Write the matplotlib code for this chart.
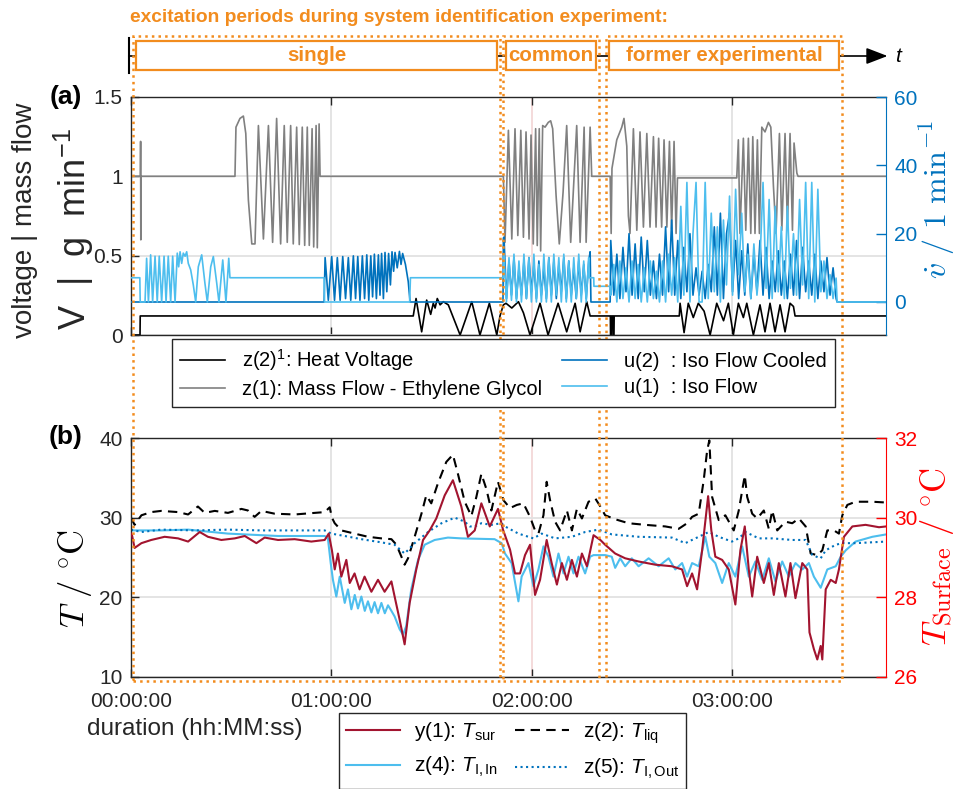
import numpy as np
import matplotlib.pyplot as plt
from matplotlib.patches import Rectangle
from matplotlib.transforms import blended_transform_factory

plt.rcParams['font.family'] = ['Liberation Sans', 'DejaVu Sans']
plt.rcParams['mathtext.fontset'] = 'custom'
plt.rcParams['mathtext.rm'] = 'Liberation Sans'
plt.rcParams['mathtext.it'] = 'Liberation Sans:italic'
plt.rcParams['mathtext.bf'] = 'Liberation Sans:bold'

# ---- data (time in hours) ----
hour_ticks = [0, 1, 2, 3]
hour_labels = ['00:00:00', '01:00:00', '02:00:00', '03:00:00']
period_names = ['single', 'common', 'former experimental']
period_start = [0.01, 1.857, 2.371]
period_end = [1.842, 2.336, 3.55]

# z(2) heat voltage [V]
heat = [(0, 0), (0.045, 0), (0.046, 0.12), (1.409, 0.12), (1.423, 0.23), (1.451, 0.02),
        (1.476, 0.22), (1.496, 0.13), (1.509, 0.20), (1.518, 0.17), (1.529, 0.23),
        (1.543, 0.19), (1.559, 0.21), (1.584, 0.19), (1.643, 0.0), (1.701, 0.21),
        (1.742, 0.0), (1.789, 0.20), (1.826, 0.0), (1.842, 0.12), (1.859, 0.19),
        (1.872, 0.20), (1.901, 0.17), (1.934, 0.21), (1.959, 0.14), (1.992, 0.0),
        (2.042, 0.20), (2.082, 0.0), (2.132, 0.20), (2.175, 0.02), (2.217, 0.20),
        (2.242, 0.02), (2.275, 0.21), (2.292, 0.12), (2.393, 0.12), (2.394, 0.0),
        (2.398, 0.0), (2.399, 0.12), (2.406, 0.12), (2.407, 0.0), (2.411, 0.0),
        (2.412, 0.12), (2.737, 0.12), (2.741, 0.20), (2.761, 0.015), (2.782, 0.20),
        (2.807, 0.11), (2.832, 0.20), (2.861, 0.15), (2.891, 0.0), (2.924, 0.20),
        (2.958, 0.09), (2.982, 0.20), (3.007, 0.0), (3.032, 0.20), (3.057, 0.11),
        (3.074, 0.20), (3.107, 0.0), (3.140, 0.19), (3.165, 0.02), (3.190, 0.20),
        (3.215, 0.02), (3.240, 0.19), (3.265, 0.02), (3.290, 0.20), (3.307, 0.18),
        (3.315, 0.12), (3.77, 0.12)]

# z(1) mass flow ethylene glycol [g/min]
mass = [(0, 1.0), (0.047, 1.0), (0.048, 1.22), (0.049, 0.6), (0.05, 1.0), (0.519, 1.0),
        (0.524, 1.31), (0.544, 1.365), (0.561, 1.38), (0.573, 1.27), (0.586, 0.85),
        (0.603, 0.574), (0.619, 0.574), (0.636, 1.32), (0.661, 0.605), (0.686, 1.32),
        (0.707, 0.584), (0.727, 1.365), (0.747, 0.574), (0.765, 1.32), (0.78, 0.584),
        (0.797, 1.32), (0.81, 0.574), (0.827, 1.31), (0.84, 0.57), (0.855, 1.31),
        (0.867, 0.565), (0.88, 1.31), (0.89, 0.565), (0.904, 1.30), (0.912, 0.555),
        (0.924, 1.32), (0.93, 0.55), (0.939, 1.33), (0.944, 1.0), (1.859, 1.0),
        (1.867, 0.584), (1.884, 1.29), (1.901, 0.605), (1.917, 1.30), (1.931, 0.627),
        (1.946, 1.29), (1.959, 0.616), (1.972, 1.28), (1.987, 0.605), (1.997, 1.26),
        (2.008, 0.574), (2.020, 1.30), (2.028, 0.564), (2.038, 1.30), (2.045, 0.53),
        (2.055, 1.32), (2.067, 1.31), (2.083, 1.34), (2.095, 1.35), (2.105, 1.30),
        (2.122, 0.88), (2.138, 0.574), (2.157, 0.90), (2.175, 1.32), (2.195, 0.584),
        (2.225, 1.32), (2.242, 0.584), (2.262, 1.31), (2.272, 0.584), (2.292, 1.31),
        (2.30, 1.0), (2.392, 1.0), (2.397, 0.64), (2.401, 1.05), (2.425, 1.23),
        (2.45, 1.31), (2.461, 1.365), (2.475, 1.19), (2.483, 0.75), (2.491, 0.64),
        (2.508, 1.30), (2.525, 0.66), (2.541, 1.28), (2.558, 0.68), (2.575, 1.27),
        (2.591, 0.68), (2.608, 1.25), (2.621, 0.68), (2.634, 1.24), (2.649, 0.68),
        (2.661, 1.23), (2.675, 0.68), (2.688, 1.22), (2.699, 0.67), (2.711, 1.22),
        (2.721, 0.64), (2.728, 0.99), (3.024, 0.99), (3.032, 1.23), (3.04, 0.64),
        (3.057, 1.24), (3.069, 0.66), (3.082, 1.24), (3.094, 0.64), (3.104, 1.25),
        (3.115, 0.64), (3.127, 1.23), (3.137, 0.64), (3.149, 1.31), (3.165, 1.28),
        (3.182, 1.34), (3.194, 1.31), (3.207, 0.94), (3.22, 0.64), (3.237, 1.27),
        (3.249, 0.66), (3.265, 1.27), (3.277, 0.68), (3.29, 1.27), (3.302, 0.66),
        (3.31, 1.21), (3.324, 1.02), (3.33, 1.0), (3.77, 1.0)]

# u(1) iso flow [l/min]
u1_start = [(0, 7.1), (0.044, 7.1), (0.046, 0), (0.07, 0), (0.078, 12.8), (0.087, 0),
            (0.098, 13.8), (0.108, 0), (0.12, 13.4), (0.131, 0), (0.141, 13.4),
            (0.153, 0), (0.165, 13.4), (0.175, 0), (0.186, 13.4), (0.198, 0),
            (0.208, 13.4), (0.22, 0), (0.231, 14.3), (0.238, 10.3), (0.245, 14.7),
            (0.253, 11.3), (0.261, 14.3), (0.27, 13.4), (0.278, 14.7), (0.286, 11.3),
            (0.298, 9.4), (0.311, 5.0), (0.323, 0), (0.336, 10.3), (0.353, 13.8),
            (0.369, 5.5), (0.381, 0), (0.398, 10.3), (0.411, 13.3), (0.428, 5.5),
            (0.439, 0), (0.458, 12.3), (0.474, 0), (0.488, 12.8), (0.494, 7.1),
            (0.964, 7.1), (0.966, 0), (1.391, 0), (1.395, 7.1), (1.859, 7.1)]
u1_common = [14, 0, 13, 0.5, 14, 0, 12, 0, 14, 1, 13, 0, 14, 0, 11, 0, 14, 0, 13, 0,
             14, 2, 13, 0, 14, 0, 12, 0, 13, 1, 14, 0, 12, 0, 13]
u1_mid = [(2.287, 7.1), (2.31, 7.1), (2.311, 4.6), (2.392, 4.6)]
u1_former = [2, 11, 0, 12, 1, 10, 0, 12, 1, 11, 0, 10, 0, 12, 1, 9, 0, 12, 0, 14, 2, 13,
             0, 28, 2, 35, 0, 20, 35, 0, 0, 35, 1, 26, 3, 22, 0, 24, 5, 31, 2, 33, 8, 26,
             3, 14, 1, 17, 2, 12, 35, 4, 30, 1, 28, 3, 22, 1, 28, 4, 20, 2, 30, 5, 35, 1,
             35, 0, 33, 3, 12, 1, 8, 1, 7]
u1_end = [(3.525, 0), (3.77, 0)]

# u(2) iso flow cooled [l/min]
u2_start = [(0, 0), (0.964, 0), (0.969, 13), (0.985, 0.5), (1.002, 13.3), (1.016, 0.5),
            (1.030, 13), (1.044, 0.5), (1.057, 13.3), (1.071, 1), (1.085, 13),
            (1.097, 0.5), (1.110, 13.5), (1.121, 1), (1.132, 13.3), (1.143, 0.5),
            (1.155, 13.5), (1.166, 1), (1.177, 13.8), (1.187, 0.5), (1.197, 13.5),
            (1.206, 1.5), (1.215, 14), (1.225, 1), (1.235, 13.8), (1.243, 2),
            (1.251, 14.2), (1.260, 1), (1.268, 14.5), (1.277, 3), (1.286, 14.2),
            (1.295, 5), (1.303, 14.7), (1.311, 9), (1.318, 14.5), (1.329, 10),
            (1.340, 14.8), (1.348, 11), (1.356, 14.2), (1.370, 11), (1.384, 6),
            (1.393, 0), (1.857, 0), (1.859, 18.7)]
u2_common = [19, 1, 12, 2, 13, 1, 10, 2, 12, 1, 13, 3, 11, 1, 12, 2, 10, 1, 13, 2, 12,
             1, 11, 3, 13, 1, 12, 2, 10, 1, 12, 2, 11, 1, 12]
u2_mid = [(2.292, 14.7), (2.296, 0), (2.392, 0)]
u2_former = [18, 2, 14, 1, 16, 3, 20, 2, 17, 1, 19, 3, 18, 2, 12, 1, 14, 2, 22, 3, 24, 2,
             18, 1, 16, 3, 20, 2, 10, 2, 9, 1, 11, 3, 22, 2, 26, 1, 20, 26, 3, 18, 1, 15,
             2, 17, 1, 14, 3, 18, 2, 16, 1, 12, 3, 15, 2, 12, 1, 14, 2, 18, 1, 16, 3, 12,
             2, 14, 1, 12, 3, 13, 2, 10, 1]
u2_end = [(3.525, 0), (3.77, 0)]

# z(2) T_liq [degC]
t_liq = [(0, 30.0), (0.018, 29.1), (0.052, 30.3), (0.101, 30.7), (0.151, 30.85),
         (0.235, 30.7), (0.285, 30.4), (0.334, 31.4), (0.368, 30.6), (0.418, 30.85),
         (0.484, 30.6), (0.551, 31.1), (0.584, 30.9), (0.617, 30.1), (0.651, 30.85),
         (0.717, 30.5), (0.817, 30.4), (0.917, 30.6), (0.967, 30.7), (0.992, 31.3),
         (1.003, 30.0), (1.017, 29.3), (1.05, 28.4), (1.116, 28.0), (1.183, 27.6),
         (1.25, 27.4), (1.3, 27.3), (1.325, 26.6), (1.35, 25.1), (1.366, 24.1),
         (1.383, 24.9), (1.416, 27.6), (1.45, 30.5), (1.474, 32.8), (1.499, 31.8),
         (1.532, 34.3), (1.574, 37.0), (1.607, 37.9), (1.632, 35.5), (1.666, 32.0),
         (1.699, 30.2), (1.724, 32.6), (1.749, 35.5), (1.774, 33.6), (1.799, 30.9),
         (1.832, 34.5), (1.859, 32.2), (1.892, 31.2), (1.926, 31.6), (1.959, 31.8),
         (1.992, 30.1), (2.017, 28.4), (2.034, 28.0), (2.059, 30.3), (2.075, 34.5),
         (2.092, 32.2), (2.117, 29.5), (2.142, 28.4), (2.176, 30.9), (2.201, 28.4),
         (2.226, 31.1), (2.251, 29.9), (2.284, 32.0), (2.318, 32.4), (2.343, 31.4),
         (2.367, 30.3), (2.417, 29.8), (2.484, 29.3), (2.567, 29.1), (2.667, 28.9),
         (2.734, 28.6), (2.776, 29.3), (2.801, 30.1), (2.834, 30.5), (2.859, 34.7),
         (2.876, 38.4), (2.887, 39.7), (2.901, 32.6), (2.934, 29.7), (2.967, 30.3),
         (3.009, 28.4), (3.034, 30.9), (3.064, 35.3), (3.076, 32.6), (3.101, 30.5),
         (3.126, 29.9), (3.159, 30.9), (3.184, 28.6), (3.201, 30.9), (3.226, 28.4),
         (3.267, 29.5), (3.301, 29.3), (3.334, 29.9), (3.368, 28.9), (3.393, 25.5),
         (3.426, 25.3), (3.451, 25.9), (3.476, 28.4), (3.509, 28.4), (3.534, 28.0),
         (3.551, 30.3), (3.576, 31.6), (3.617, 32.0), (3.701, 32.0), (3.77, 31.9)]

# z(5) T_I,Out [degC]
t_out = [(0, 28.5), (0.052, 28.2), (0.151, 28.5), (0.318, 28.4), (0.484, 28.5),
         (0.651, 28.4), (0.817, 28.4), (0.967, 28.4), (1.0, 28.0), (1.067, 27.7),
         (1.15, 27.3), (1.25, 26.9), (1.316, 26.6), (1.366, 25.5), (1.416, 26.8),
         (1.483, 28.2), (1.55, 29.3), (1.616, 30.0), (1.666, 29.5), (1.691, 28.9),
         (1.716, 28.9), (1.749, 29.3), (1.799, 29.1), (1.849, 29.3), (1.867, 28.9),
         (1.934, 28.0), (2.009, 27.4), (2.05, 28.0), (2.117, 27.4), (2.201, 27.6),
         (2.267, 28.2), (2.334, 28.5), (2.4, 27.9), (2.534, 27.6), (2.7, 27.5),
         (2.767, 26.8), (2.834, 27.6), (2.884, 28.2), (2.934, 27.6), (3.0, 27.0),
         (3.034, 27.4), (3.068, 28.2), (3.134, 27.4), (3.201, 27.4), (3.301, 27.2),
         (3.368, 27.2), (3.401, 25.3), (3.443, 24.9), (3.468, 25.9), (3.518, 26.6),
         (3.551, 26.8), (3.617, 26.8), (3.77, 27.0)]

# z(4) T_I,In [degC]
t_in = [(0, 28.4), (0.151, 28.4), (0.285, 28.5), (0.484, 28.0), (0.734, 27.7),
        (0.967, 27.7), (0.983, 27.4), (0.997, 24.3), (1.008, 22.2), (1.025, 20.1),
        (1.042, 22.6), (1.067, 19.3), (1.083, 21.0), (1.1, 18.5), (1.117, 20.3),
        (1.133, 18.6), (1.15, 20.1), (1.167, 18.3), (1.183, 19.5), (1.2, 18.1),
        (1.216, 19.4), (1.233, 18.0), (1.25, 19.3), (1.267, 18.0), (1.283, 19.0),
        (1.3, 18.3), (1.316, 17.6), (1.341, 16.0), (1.358, 15.3), (1.374, 16.4),
        (1.399, 21.0), (1.433, 24.7), (1.466, 26.6), (1.516, 27.2), (1.582, 27.5),
        (1.649, 27.4), (1.815, 27.3), (1.85, 26.8), (1.867, 25.5), (1.9, 24.3),
        (1.934, 19.5), (1.95, 22.6), (1.984, 24.3), (2.009, 21.4), (2.034, 23.5),
        (2.059, 26.4), (2.084, 25.1), (2.109, 22.6), (2.134, 25.5), (2.159, 23.0),
        (2.184, 25.1), (2.209, 23.0), (2.234, 25.1), (2.267, 23.0), (2.292, 25.1),
        (2.309, 25.3), (2.367, 25.3), (2.4, 25.1), (2.417, 23.7), (2.442, 24.9),
        (2.467, 23.9), (2.5, 24.9), (2.534, 23.9), (2.584, 24.9), (2.634, 23.9),
        (2.684, 24.9), (2.717, 23.5), (2.751, 24.3), (2.776, 22.6), (2.801, 24.3),
        (2.834, 23.9), (2.867, 27.6), (2.887, 25.1), (2.917, 24.3), (2.951, 21.8),
        (2.984, 24.3), (3.017, 22.6), (3.051, 26.4), (3.084, 22.6), (3.117, 24.5),
        (3.151, 22.2), (3.184, 24.9), (3.217, 22.0), (3.251, 24.5), (3.284, 22.6),
        (3.317, 24.3), (3.351, 23.5), (3.384, 24.3), (3.409, 22.6), (3.443, 21.2),
        (3.476, 23.5), (3.518, 23.9), (3.543, 25.1), (3.568, 25.9), (3.617, 27.0),
        (3.701, 27.6), (3.77, 27.9)]

# y(1) T_sur [degC, right axis]
t_sur = [(0, 29.6), (0.005, 29.56), (0.018, 29.24), (0.052, 29.36), (0.101, 29.44),
         (0.168, 29.52), (0.235, 29.48), (0.285, 29.4), (0.343, 29.64), (0.384, 29.52),
         (0.451, 29.44), (0.518, 29.48), (0.568, 29.54), (0.626, 29.36), (0.667, 29.5),
         (0.734, 29.44), (0.817, 29.46), (0.9, 29.4), (0.967, 29.44), (0.987, 29.6),
         (1.003, 29.18), (1.017, 28.7), (1.033, 29.1), (1.05, 28.52), (1.075, 28.94),
         (1.092, 28.36), (1.116, 28.6), (1.141, 28.2), (1.166, 28.52), (1.2, 28.14),
         (1.233, 28.44), (1.266, 28.14), (1.3, 28.4), (1.316, 28.02), (1.341, 27.44),
         (1.366, 26.82), (1.391, 27.86), (1.424, 28.7), (1.458, 29.44), (1.491, 29.68),
         (1.524, 29.98), (1.566, 30.56), (1.607, 30.94), (1.649, 30.28), (1.682, 29.52),
         (1.716, 29.68), (1.749, 30.36), (1.791, 29.78), (1.832, 30.22), (1.857, 29.7),
         (1.892, 29.2), (1.917, 28.6), (1.942, 28.6), (1.967, 29.06), (1.992, 29.32),
         (2.017, 28.06), (2.042, 28.44), (2.075, 29.44), (2.1, 28.86), (2.126, 28.32),
         (2.151, 28.86), (2.176, 28.44), (2.201, 28.94), (2.226, 28.52), (2.251, 29.1),
         (2.276, 28.78), (2.309, 29.56), (2.343, 29.44), (2.367, 29.32), (2.417, 29.1),
         (2.467, 28.98), (2.534, 28.9), (2.617, 28.82), (2.7, 28.78), (2.751, 28.7),
         (2.776, 28.28), (2.801, 28.6), (2.826, 28.2), (2.851, 29.18), (2.881, 30.54),
         (2.897, 29.68), (2.917, 29.02), (2.951, 28.94), (2.984, 28.7), (3.017, 27.82),
         (3.042, 29.18), (3.064, 29.78), (3.084, 28.7), (3.101, 28.02), (3.126, 29.02),
         (3.159, 28.36), (3.184, 28.86), (3.209, 28.06), (3.234, 28.86), (3.267, 28.02),
         (3.292, 28.86), (3.317, 27.98), (3.351, 28.86), (3.376, 28.7), (3.387, 27.12),
         (3.409, 26.7), (3.426, 26.44), (3.443, 26.78), (3.451, 26.44), (3.468, 28.2),
         (3.493, 28.44), (3.518, 28.36), (3.534, 28.7), (3.559, 29.52), (3.601, 29.78),
         (3.667, 29.82), (3.734, 29.76), (3.77, 29.78)]


def pairs(p):
    a = np.array(p, dtype=float)
    return a[:, 0], a[:, 1]


def burst(t0, t1, vals):
    # evenly sampled stretch of a fast excitation
    return list(zip(np.linspace(t0, t1, len(vals)), vals))


u1 = u1_start + burst(1.862, 2.285, u1_common) + u1_mid + burst(2.395, 3.52, u1_former) + u1_end
u2 = u2_start + burst(1.862, 2.285, u2_common) + u2_mid + burst(2.395, 3.52, u2_former) + u2_end

# ---- styling ----
orange = '#F28C1E'
blue = '#0072BD'
light = '#4DBEEE'
dred = '#A2142F'
axc = '#262626'
gridc = '#e2e2e2'
W, H = 957, 789
xmax = 3.769


def fx(px):
    return px / W


def fy(py):
    return 1 - py / H


def style_axis(ax):
    ax.tick_params(direction='in', length=6, width=1, labelsize=15, colors=axc,
                   top=True, pad=6)
    ax.tick_params(axis='x', pad=11)
    for s in ax.spines.values():
        s.set_color(axc)
        s.set_linewidth(1)
    ax.grid(True, color=gridc, lw=1.3)
    ax.set_axisbelow(True)


fig = plt.figure(figsize=(W / 100, H / 100), dpi=100)
ax_a = fig.add_axes([fx(131), fy(335), fx(755), 238 / H])
ax_b = fig.add_axes([fx(131), fy(677), fx(755), 239 / H])
ax_t = fig.add_axes([fx(131), fy(76), fx(755), 40 / H])

# panel (a)
h_heat, = ax_a.plot(*pairs(heat), color='k', lw=1.2)
h_mass, = ax_a.plot(*pairs(mass), color='#808080', lw=1.2)
ax_a.set_xlim(0, xmax)
ax_a.set_ylim(0, 1.5)
ax_a.set_yticks([0, 0.5, 1, 1.5])
ax_a.set_yticklabels(['0', '0.5', '1', '1.5'])
ax_a.set_xticks(hour_ticks)
style_axis(ax_a)
ax_a.tick_params(labelbottom=False, right=False)
ax_a.spines['right'].set_visible(False)
ax_a.get_xgridlines()[2].set_color('#f3d8d8')

ax_a2 = ax_a.twinx()
h_u2, = ax_a2.plot(*pairs(u2), color=blue, lw=1.2)
h_u1, = ax_a2.plot(*pairs(u1), color=light, lw=1.2)
ax_a2.set_ylim(-9.66, 60)
ax_a2.set_yticks([0, 20, 40, 60])
ax_a2.tick_params(direction='in', length=7, width=1, labelsize=15, colors=blue, pad=6)
for k in ['left', 'top', 'bottom']:
    ax_a2.spines[k].set_visible(False)
ax_a2.spines['right'].set_color(blue)

# panel (b)
h_liq, = ax_b.plot(*pairs(t_liq), color='k', lw=1.5, ls=(0, (4.5, 3)))
h_in, = ax_b.plot(*pairs(t_in), color=light, lw=1.5)
h_out, = ax_b.plot(*pairs(t_out), color=blue, lw=1.5, ls=':')
ax_b.set_xlim(0, xmax)
ax_b.set_ylim(10, 40)
ax_b.set_yticks([10, 20, 30, 40])
ax_b.set_xticks(hour_ticks)
ax_b.set_xticklabels(hour_labels)
style_axis(ax_b)
ax_b.tick_params(right=False)
ax_b.spines['right'].set_visible(False)
ax_b.get_xgridlines()[2].set_color('#f3d8d8')

ax_b2 = ax_b.twinx()
h_sur, = ax_b2.plot(*pairs(t_sur), color=dred, lw=1.5)
ax_b2.set_ylim(26, 32)
ax_b2.set_yticks([26, 28, 30, 32])
ax_b2.tick_params(direction='in', length=7, width=1, labelsize=15, colors='#FF0000', pad=6)
for k in ['left', 'top', 'bottom']:
    ax_b2.spines[k].set_visible(False)
ax_b2.spines['right'].set_color('#FF0000')

# timeline of the excitation periods
ax_t.set_xlim(0, xmax)
ax_t.set_ylim(0, 1)
ax_t.axis('off')
ax_t.annotate('', xy=(1.002, 0.5), xytext=(-0.003, 0.5), xycoords='axes fraction',
              arrowprops=dict(arrowstyle='-|>,head_length=1.3,head_width=0.5',
                              color='k', lw=1.2, shrinkA=0, shrinkB=0))
ax_t.plot([-0.0026, -0.0026], [0.08, 0.95], transform=ax_t.transAxes, color='k',
          lw=1.5, clip_on=False)
pad = 0.015
for name, s, e in zip(period_names, period_start, period_end):
    ax_t.add_patch(Rectangle((s + pad, 0.15), e - s - 2 * pad, 0.725, facecolor='white',
                             edgecolor=orange, lw=1.6, zorder=3))
    ax_t.text((s + e) / 2, 0.52, name, color=orange, fontsize=14.8, weight='bold',
              ha='center', va='center', zorder=4)
ax_t.text(1.012, 0.5, 't', transform=ax_t.transAxes, style='italic', fontsize=15,
          va='center', ha='left')

# dotted frames spanning both panels
trans = blended_transform_factory(ax_b.transData, fig.transFigure)
for s, e in zip(period_start, period_end):
    fig.add_artist(Rectangle((s, fy(681)), e - s, (681 - 36) / H, transform=trans,
                             fill=False, ls=':', lw=1.8, edgecolor=orange, zorder=5,
                             clip_on=False))

fig.text(fx(130), fy(18), 'excitation periods during system identification experiment:',
         color=orange, weight='bold', fontsize=13.8, ha='left', va='center')

# labels
fig.text(fx(66), fy(97), '(a)', weight='bold', fontsize=19, ha='center', va='center')
fig.text(fx(66), fy(437), '(b)', weight='bold', fontsize=19, ha='center', va='center')
fig.text(fx(25), fy(220), 'voltage | mass flow', rotation=90, fontsize=20,
         ha='center', va='center', color=axc)
fig.text(fx(74), fy(229), 'V  |  g  min$^{-1}$', rotation=90, fontsize=26,
         ha='center', va='center', color=axc)
fig.text(fx(937), fy(200), r'$\dot{v}\ /\ 1\ \mathrm{min}^{-1}$', rotation=90,
         fontsize=23, color=blue, ha='center', va='center', math_fontfamily='cm')
fig.text(fx(75), fy(578), r'$T\ /\ ^{\circ}\mathrm{C}$', rotation=90, fontsize=25,
         ha='center', va='center', math_fontfamily='cm')
fig.text(fx(937), fy(557), r'$T_{\mathrm{Surface}}\ /\ ^{\circ}\mathrm{C}$', rotation=90,
         fontsize=25, color='#FF0000', ha='center', va='center', math_fontfamily='cm')
fig.text(fx(87), fy(729), 'duration (hh:MM:ss)', fontsize=17.5, ha='left', va='center',
         color=axc)

# legends
leg_a = fig.legend([h_heat, h_mass, h_u2, h_u1],
                   ['z(2)$^{1}$: Heat Voltage', 'z(1): Mass Flow - Ethylene Glycol',
                    'u(2)  : Iso Flow Cooled', 'u(1)  : Iso Flow'],
                   ncol=2, loc='upper left', bbox_to_anchor=(fx(172), fy(339)),
                   fontsize=14.5, fancybox=False, edgecolor=axc, framealpha=1,
                   borderaxespad=0, handlelength=2.25, handletextpad=0.85,
                   columnspacing=0.95, labelspacing=0.35, borderpad=0.4)
leg_a.get_frame().set_linewidth(1.0)

leg_b = fig.legend([h_sur, h_in, h_liq, h_out],
                   ['y(1): $T_{\\mathrm{sur}}$', 'z(4): $T_{\\mathrm{I,In}}$',
                    'z(2): $T_{\\mathrm{liq}}$', 'z(5): $T_{\\mathrm{I,Out}}$'],
                   ncol=2, loc='upper left', bbox_to_anchor=(fx(339), fy(713)),
                   fontsize=15, fancybox=False, edgecolor=axc, framealpha=1,
                   borderaxespad=0, handlelength=2.6, handletextpad=0.65,
                   columnspacing=0.8, labelspacing=0.55, borderpad=0.35)
leg_b.get_frame().set_linewidth(1.0)

fig.savefig('out.png', dpi=100)
